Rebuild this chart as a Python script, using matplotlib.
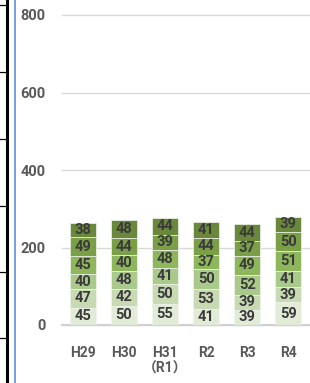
import numpy as np
import matplotlib
matplotlib.use("Agg")
import matplotlib.pyplot as plt
from matplotlib.lines import Line2D

plt.rcParams['font.family'] = ['Roboto', 'Noto Sans CJK JP', 'DejaVu Sans']

years = ["H29", "H30", "H31\n（R1）", "R2", "R3", "R4"]
# stacked segments, bottom -> top
seg1 = [45, 50, 55, 41, 39, 59]
seg2 = [47, 42, 50, 53, 39, 39]
seg3 = [40, 48, 41, 50, 52, 41]
seg4 = [45, 40, 48, 37, 49, 51]
seg5 = [49, 44, 39, 44, 37, 50]
seg6 = [38, 48, 44, 41, 44, 39]
y_ticks = [0, 200, 400, 600, 800]

segments = [seg1, seg2, seg3, seg4, seg5, seg6]
colors = ['#E2EBD8', '#C7DAB4', '#AACA8C', '#8EB75C', '#7A9F47', '#6A883B']

fig = plt.figure(figsize=(3.10, 3.83), dpi=100)
fig.set_facecolor("white")
ax = fig.add_axes([62/310, 1-325/383, 247/310, 310/383])

x = np.arange(len(years))
bottom = np.zeros(len(years))
for vals, col in zip(segments, colors):
    vals = np.array(vals)
    ax.bar(x, vals, bottom=bottom, width=0.63, color=col, edgecolor="#F2F5EE", linewidth=0.5, zorder=3)
    for xi, b, v in zip(x, bottom, vals):
        ax.text(xi, b + v/2, str(v), ha="center", va="center", fontsize=10.5,
                fontweight="bold", color="#3A3A3A", zorder=4)
    bottom += vals

ax.set_xlim(-0.5, len(years) - 0.5)
ax.set_ylim(0, 800)
ax.set_yticks(y_ticks)
ax.set_yticklabels([str(t) for t in y_ticks], fontsize=10.5, fontweight="bold", color="#595959")
ax.set_xticks(x)
ax.set_xticklabels(years, fontsize=10, fontweight="bold", color="#595959", linespacing=1.15)
ax.tick_params(axis="y", length=0, pad=12)
ax.tick_params(axis="x", length=0, pad=15)
for t in ax.get_xticklabels():
    t.set_verticalalignment("top")

for s in ["top", "right", "left"]:
    ax.spines[s].set_visible(False)
ax.spines["bottom"].set_color("#D0D0D0")
ax.spines["bottom"].set_linewidth(1.5)
ax.yaxis.grid(True, color="#D9D9D9", linewidth=1, zorder=0)
ax.set_axisbelow(True)
for gl in ax.get_ygridlines():
    gl.set_clip_on(False)

# left-side frame decoration
fig.add_artist(Line2D([6.5/310, 6.5/310], [0, 1], color="black", lw=2.2))
for yy in [5, 72, 139, 206, 272, 338]:
    fig.add_artist(Line2D([0, 6.5/310], [1-yy/383, 1-yy/383], color="black", lw=0.9))
fig.add_artist(Line2D([14.5/310, 14.5/310], [0, 1], color="#5B8FD6", lw=1.2))

plt.savefig("out.png", dpi=100)
